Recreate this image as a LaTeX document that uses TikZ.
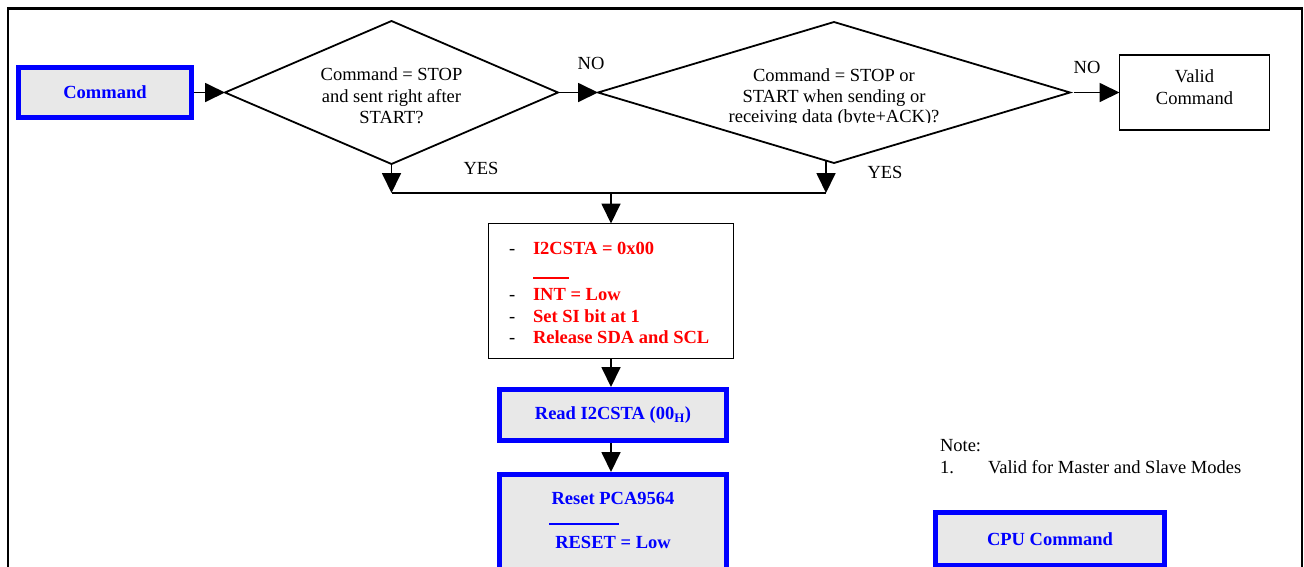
\documentclass[tikz,border=0pt]{standalone}
\usepackage{fontspec}
\setmainfont{Liberation Serif}
\usetikzlibrary{shapes.geometric,arrows.meta,calc}
\definecolor{boxgray}{HTML}{E8E8E8}
\definecolor{cmdblue}{HTML}{0000FF}
\definecolor{actred}{HTML}{FF0000}

\begin{document}
\begin{tikzpicture}[x=1pt,y=-1pt,
  every node/.style={font=\fontsize{18.5}{21.5}\selectfont, inner sep=0pt, outer sep=0pt},
  cpubox/.style={draw=cmdblue, line width=5pt, fill=boxgray, text=cmdblue,
    font=\fontsize{18.5}{21.5}\selectfont\bfseries, outer sep=2.5pt},
  cputxt/.style={text=cmdblue, font=\fontsize{18.5}{21.5}\selectfont\bfseries},
  acttxt/.style={text=actred, font=\fontsize{18.5}{21.5}\selectfont\bfseries},
  decision/.style={diamond, draw, line width=1.8pt, inner sep=0pt, outer sep=0pt},
  plainbox/.style={rectangle, draw, line width=1.6pt},
  flow/.style={line width=1.8pt, -{Triangle[length=20pt,width=19pt]}},
  joinline/.style={line width=1.8pt}
]
\useasboundingbox (0,0) rectangle (1304,566);

% page frame (its lower edge lies below the visible area)
\draw[line width=2.5pt] (8,590) -- (8,8.5) -- (1302,8.5) -- (1302,590);

% incoming command
\node[cpubox, minimum width=173pt, minimum height=50pt] (cmd) at (105,92.5) {Command};

% first decision
\node[decision, minimum width=333pt, minimum height=143pt] (d1) at (391.5,92.5) {};
\node[align=center] (d1t) at (391.5,96) {Command = STOP\\and sent right after\\START?};

% second decision
\node[decision, minimum width=472pt, minimum height=141pt] (d2) at (834,92.5) {};
\node[anchor=base] (d2t1) at (834,81) {Command = STOP or};
\node[anchor=base] (d2t2) at (834,102) {START when sending or};
\begin{scope}
  \clip (600,105) rectangle (1070,122.5);
  \node[anchor=base] (d2t3) at (834,122) {receiving data (byte+ACK)?};
\end{scope}

% valid command
\node[plainbox, line width=1.5pt, minimum width=150pt, minimum height=75pt] (valid) at (1194.5,92.5) {};
\node[align=center] (validt) at (1194.5,87) {Valid\\Command};

% branch labels
\node (no1) at (591,63) {NO};
\node (no2) at (1087,67) {NO};
\node (yes1) at (481,168) {YES};
\node (yes2) at (885,172) {YES};

% actions box
\node[plainbox, minimum width=245pt, minimum height=135pt] (act) at (611,291) {};
\node[anchor=base west] (a1d) at (509,254) {-};
\node[acttxt, anchor=base west] (a1) at (533,254) {I2CSTA = 0x00};
\draw[actred, line width=1.6pt] (533,278) -- (569,278);
\node[anchor=base west] (a2d) at (509,300) {-};
\node[acttxt, anchor=base west] (a2) at (533,300) {INT = Low};
\node[anchor=base west] (a3d) at (509,322) {-};
\node[acttxt, anchor=base west] (a3) at (533,322) {Set SI bit at 1};
\node[anchor=base west] (a4d) at (509,343) {-};
\node[acttxt, anchor=base west] (a4) at (533,343) {Release SDA and SCL};

% CPU reactions
\node[cpubox, minimum width=227pt, minimum height=51pt] (read) at (613,415) {Read I2CSTA (00\textsubscript{H})};
\node[cpubox, minimum width=227pt, minimum height=123pt] (reset) at (613,536) {};
\node[cputxt, anchor=base] (rst1) at (613,504) {Reset PCA9564};
\draw[cmdblue, line width=1.6pt] (549,524) -- (619,524);
\node[cputxt, anchor=base] (rst2) at (613,548) {RESET = Low};

% note and legend
\node[anchor=base west] (note) at (940,451) {Note:};
\node[anchor=base west] (note1n) at (940,473) {1.};
\node[anchor=base west] (note1) at (988,473) {Valid for Master and Slave Modes};
\node[cpubox, minimum width=229pt, minimum height=53pt] (legend) at (1050,539) {CPU Command};

% connectors
\coordinate (j1) at (391.5,193);
\coordinate (j2) at (826,193);
\coordinate (jm) at (611,193);
\coordinate (d2o) at ($(d2.south)+(-8,-2.4)$);

\draw[flow] (cmd.east) -- (d1.west);
\draw[flow] (d1.east) -- (d2.west);
\draw[flow, shorten <=4pt] (d2.east) -- (valid.west);
\draw[flow] (d1.south) -- (j1);
\draw[flow] (d2o) -- (j2);
\draw[joinline] (j1) -- (j2);
\draw[flow] (jm) -- (act.north);
\draw[flow] (act.south) -- (act.south |- read.north);
\draw[flow] (read.south -| act.south) -- (act.south |- reset.north);
\end{tikzpicture}
\end{document}
